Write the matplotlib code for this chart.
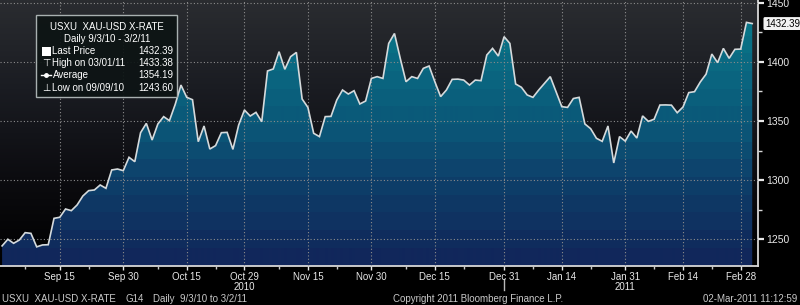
import numpy as np
import pandas as pd
import matplotlib
matplotlib.use('Agg')
import matplotlib.pyplot as plt
from matplotlib.colors import LinearSegmentedColormap
from matplotlib.patches import Rectangle
from matplotlib.lines import Line2D
from matplotlib.transforms import blended_transform_factory

plt.rcParams['font.family'] = ['Liberation Sans', 'DejaVu Sans']

# data (daily, business days)
start_date = '2010-09-01'
end_date = '2011-03-02'
prices = [
    1244.4, 1250.0, 1246.6, 1249.4, 1255.6, 1255.0, 1243.6, 1245.2, 1245.4, 1267.7,
    1268.6, 1275.6, 1274.2, 1279.0, 1286.6, 1291.1, 1291.7, 1295.9, 1293.1, 1308.6,
    1309.4, 1308.0, 1319.3, 1315.6, 1340.1, 1348.0, 1333.9, 1347.5, 1353.7, 1350.3,
    1364.0, 1380.4, 1370.0, 1368.0,
    1332.5, 1345.8, 1326.3, 1329.2, 1340.1, 1340.4, 1326.0, 1346.6, 1359.3, 1354.2,
    1357.3, 1349.4, 1392.3, 1394.0, 1408.6, 1393.7, 1404.4, 1408.0, 1368.6, 1361.5,
    1339.6, 1336.8, 1353.7, 1353.9, 1367.7, 1376.2, 1372.8, 1375.6, 1364.4, 1366.9,
    1386.0, 1387.5,
    1386.0, 1415.6, 1424.0, 1403.0, 1383.2, 1387.5, 1386.0, 1394.5, 1396.5, 1383.2,
    1370.6, 1376.2, 1385.2, 1385.4, 1384.6, 1380.4, 1384.6, 1384.1, 1405.8, 1411.4,
    1404.9, 1421.3, 1415.6, 1381.3, 1378.5, 1372.0, 1370.0, 1376.2, 1381.8, 1387.5,
    1374.8, 1362.1, 1361.5,
    1369.0, 1370.0, 1347.5, 1343.5, 1335.4, 1332.8, 1345.8, 1314.5, 1336.8, 1333.0,
    1341.5, 1335.6, 1354.3, 1349.7, 1351.5, 1363.5, 1363.6, 1363.4, 1357.0, 1361.8,
    1374.0, 1374.8, 1383.0, 1389.6, 1406.6, 1399.3, 1411.4, 1403.0, 1410.6, 1410.8,
    1433.38, 1432.39,
]
tick_dates = ['2010-09-15', '2010-09-30', '2010-10-15', '2010-10-29', '2010-11-15', '2010-11-30',
              '2010-12-15', '2010-12-31', '2011-01-14', '2011-01-31', '2011-02-14', '2011-02-28']
tick_labels = ['Sep 15', 'Sep 30', 'Oct 15', 'Oct 29\n2010', 'Nov 15', 'Nov 30',
               'Dec 15', 'Dec 31', 'Jan 14', 'Jan 31\n2011', 'Feb 14', 'Feb 28']
minor_dates = ['2010-09-07', '2010-09-22', '2010-10-08', '2010-10-22', '2010-11-08', '2010-11-22',
               '2010-12-08', '2010-12-22', '2011-01-07', '2011-01-21', '2011-02-07', '2011-02-21']
year_break = '2010-12-31'
y_ticks = [1250, 1300, 1350, 1400, 1450]
y_minor = [1275, 1325, 1375, 1425]
last_price = '1432.39'
legend_title = ['USXU  XAU-USD X-RATE', 'Daily 9/3/10 - 3/2/11']
legend_rows = [('Last Price', '1432.39'), ('High on 03/01/11', '1433.38'),
               ('Average', '1354.19'), ('Low on 09/09/10', '1243.60')]

dates = pd.bdate_range(start_date, end_date)
x = np.arange(len(dates))
tick_pos = dates.get_indexer(pd.to_datetime(tick_dates))
minor_pos = dates.get_indexer(pd.to_datetime(minor_dates))
year_pos = dates.get_indexer(pd.to_datetime([year_break]))[0]

x0, x1 = -0.36, 131.0
y0, y1 = 1227.4, 1452.3

W, H = 800, 305
fig = plt.figure(figsize=(W / 100, H / 100), dpi=100, facecolor='black')
ax = fig.add_axes([0, 39 / H, 758 / W, 266 / H])
ax.set_facecolor('black')

# background: black at top fading to dark grey
bg_cmap = LinearSegmentedColormap.from_list('bg', ['#000000', '#0c0c10', '#1a1c22', '#2a2c30'])
bg = np.linspace(0, 1, 200)[:, None]
ax.imshow(bg, extent=[x0, x1, y1, y0], aspect='auto', cmap=bg_cmap, zorder=0, origin='upper')

# banded teal -> navy fill under the line
fill_cmap = LinearSegmentedColormap.from_list(
    'fill', [(0.0, '#087a8a'), (0.2, '#0a6a82'), (0.45, '#0b5678'),
             (0.67, '#0e3d68'), (0.9, '#102a5c'), (1.0, '#13215a')])
g = np.linspace(0, 1, 266)
g = np.floor(g * 15) / 15
poly = ax.fill_between(x, prices, y0 - 5, facecolor='none', edgecolor='none')
im = ax.imshow(g[:, None], extent=[x0, x1, y0, y1], aspect='auto', cmap=fill_cmap,
               zorder=1, origin='upper')
im.set_clip_path(poly.get_paths()[0], ax.transData)

ax.plot(x, prices, color='#d5dadc', lw=1.2, zorder=3, solid_joinstyle='miter')

ax.set_xlim(x0, x1)
ax.set_ylim(y0, y1)

ax.set_axisbelow(False)
ax.grid(True, which='major', color='#8c8c8c', linestyle=(0, (1, 2)), linewidth=0.8)

for s in ['left', 'top']:
    ax.spines[s].set_visible(False)
for s in ['right', 'bottom']:
    ax.spines[s].set_color('#d8d8d8')
    ax.spines[s].set_linewidth(1.3)

ax.yaxis.tick_right()
ax.set_yticks(y_ticks)
ax.set_yticks(y_minor, minor=True)
ax.tick_params(axis='y', which='major', direction='out', length=4, width=1.6,
               colors='#e8e8e8', labelsize=7.5, pad=2)
ax.tick_params(axis='y', which='minor', direction='out', length=3, width=1, colors='#d8d8d8')

ax.set_xticks(tick_pos)
ax.set_xticklabels(tick_labels, linespacing=1.0)
ax.set_xticks(minor_pos, minor=True)
ax.tick_params(axis='x', which='major', direction='out', length=3, width=1,
               colors='#e8e8e8', labelsize=7, pad=1)
ax.tick_params(axis='x', which='minor', direction='out', length=2, width=1, colors='#c8c8c8')

trans = blended_transform_factory(ax.transData, ax.transAxes)
ax.plot([year_pos, year_pos], [-0.049, -0.09], transform=trans, color='#b8b8b8', lw=1, clip_on=False)

ax.annotate(last_price, xy=(1, float(last_price)), xycoords=('axes fraction', 'data'),
            xytext=(5, 0), textcoords='offset points', ha='left', va='center',
            fontsize=7, color='black', annotation_clip=False,
            bbox=dict(boxstyle='round,pad=0.15', fc='#f2f2f2', ec='none'))


def fx(px):
    return px / W


def fy(py):
    return 1 - py / H


# legend box
fig.patches.append(Rectangle((fx(36), fy(97)), (177 - 36) / W, (97 - 15) / H,
                             transform=fig.transFigure, fc=(0.05, 0.08, 0.08, 0.92),
                             ec='#a8b0b0', lw=1, zorder=5))
for i, t in enumerate(legend_title):
    fig.text(fx(107), fy(27 + 12 * i), t, ha='center', va='center', color='white', fontsize=7, zorder=6)
row_y = [51, 63, 75, 88]
for (name, val), yy in zip(legend_rows, row_y):
    fig.text(fx(52.5), fy(yy), name, ha='left', va='center', color='white', fontsize=7, zorder=6)
    fig.text(fx(173.5), fy(yy), val, ha='right', va='center', color='white', fontsize=7, zorder=6)
fig.patches.append(Rectangle((fx(42), fy(56)), 9 / W, 9 / H, transform=fig.transFigure,
                             fc='white', ec='none', zorder=6))
fig.text(fx(46.5), fy(row_y[1]), '\u22a4', ha='center', va='center', color='white', fontsize=7,
         family='DejaVu Sans', zorder=6)
fig.add_artist(Line2D([fx(41), fx(51)], [fy(row_y[2])] * 2, transform=fig.transFigure,
                      color='white', lw=1, zorder=6))
fig.add_artist(Line2D([fx(46)], [fy(row_y[2])], transform=fig.transFigure, marker='o',
                      ms=2.5, color='white', zorder=6))
fig.text(fx(46.5), fy(row_y[3]), '\u22a5', ha='center', va='center', color='white', fontsize=7,
         family='DejaVu Sans', zorder=6)

# footer
foot = '#c8c8c8'
fig.text(fx(2), fy(299), 'USXU  XAU-USD X-RATE', ha='left', va='center', color=foot, fontsize=7)
fig.text(fx(126), fy(299), 'G14', ha='left', va='center', color=foot, fontsize=7)
fig.text(fx(153), fy(299), 'Daily  9/3/10 to 3/2/11', ha='left', va='center', color=foot, fontsize=7)
fig.text(fx(393), fy(299), 'Copyright 2011 Bloomberg Finance L.P.', ha='left', va='center', color=foot, fontsize=7)
fig.text(fx(797), fy(299), '02-Mar-2011 11:12:59', ha='right', va='center', color=foot, fontsize=7)

fig.savefig('out.png', dpi=100, facecolor='black')
